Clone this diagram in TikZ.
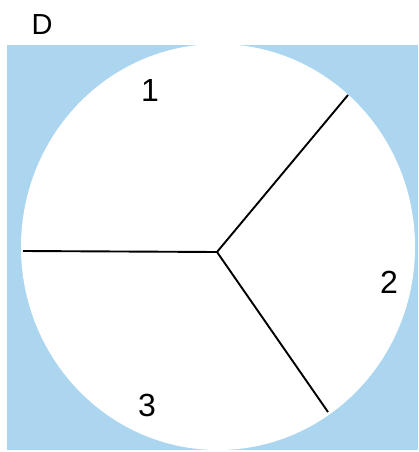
\documentclass[tikz,border=0pt]{standalone}
\usepackage{fontspec}
\setmainfont{Liberation Sans}
\definecolor{skyback}{RGB}{172,214,240}
\tikzset{
  spoke/.style={draw=black, line width=1.9pt},
  lbl/.style={inner sep=0pt, font=\fontsize{32}{32}\selectfont},
}
\begin{document}
\begin{tikzpicture}[x=1pt,y=-1pt]
\useasboundingbox (0,0) rectangle (418,452);
\fill[white] (0,0) rectangle (418,452);
\fill[skyback] (7,45) rectangle (418,450);
\fill[white] (218,247) ellipse [x radius=197, y radius=203];
\coordinate (c) at (217,252);
\coordinate (l) at (23,251);
\coordinate (ur) at (348,95);
\coordinate (lr) at (328,412);
\draw[spoke] (c) -- (l);
\draw[spoke] (c) -- (ur);
\draw[spoke] (c) -- (lr);
\node[lbl, font=\fontsize{29}{29}\selectfont] (D) at (42,25) {D};
\node[lbl] (n1) at (150,90) {1};
\node[lbl] (n2) at (389,282) {2};
\node[lbl] (n3) at (147,405) {3};
\end{tikzpicture}
\end{document}
